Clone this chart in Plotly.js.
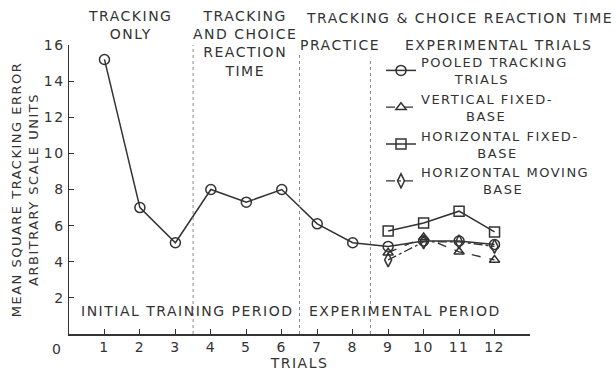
<!DOCTYPE html>
<html><head><meta charset="utf-8">
<script src="https://cdn.plot.ly/plotly-3.0.1.min.js"></script>
<style>body{margin:0;background:#fff}#c{width:616px;height:372px}
text{letter-spacing:1.5px}</style>
</head><body><div id="c"></div>
<script>
var trials = [1,2,3,4,5,6,7,8,9,10,11,12];
var pooled = [15.2,7.0,5.05,8.0,7.3,8.0,6.1,5.05,4.85,5.15,5.15,4.95];
var expTrials = [9,10,11,12];
var verticalFixed = [4.5,5.35,4.55,4.1];
var horizontalFixed = [5.7,6.15,6.8,5.65];
var horizontalMoving = [4.1,5.1,5.1,4.85];
var xTicks = [1,2,3,4,5,6,7,8,9,10,11,12];
var yTicks = [2,4,6,8,10,12,14,16];
var dividers = [3.5,6.5,8.5];
var dividerTops = [16.2,15.5,15.3];

var ink = '#333';
var F = 'DejaVu Sans, Arial, sans-serif';
var traces = [
 {x:trials,y:pooled,name:'POOLED TRACKING<br>      TRIALS',mode:'lines+markers',
  line:{color:ink,width:1.5},marker:{symbol:'circle-open',size:10,color:ink,line:{width:1.5}}},
 {x:expTrials,y:verticalFixed,name:'VERTICAL FIXED-<br>        BASE',mode:'lines+markers',
  line:{color:ink,width:1.3,dash:'dash'},marker:{symbol:'triangle-up-open',size:9,color:ink,line:{width:1.5}}},
 {x:expTrials,y:horizontalFixed,name:'HORIZONTAL FIXED-<br>          BASE',mode:'lines+markers',
  line:{color:ink,width:1.5},marker:{symbol:'square-open',size:10,color:ink,line:{width:1.5}}},
 {x:expTrials,y:horizontalMoving,name:'HORIZONTAL MOVING<br>           BASE',mode:'lines+markers',
  line:{color:ink,width:1.3,dash:'dashdot'},marker:{symbol:'diamond-tall-open',size:10,color:ink,line:{width:1.5}}}
];
var shapes = dividers.map(function(d,i){return {type:'line',xref:'x',yref:'y',x0:d,x1:d,y0:0,y1:dividerTops[i],
  line:{color:'#888',width:1,dash:'dot'}};});
function ann(t,x,y,opts){var a={text:t,xref:'paper',yref:'paper',x:x,y:y,showarrow:false,
  font:{family:F,size:14,color:ink},xanchor:'center',yanchor:'middle'};for(var k in opts)a[k]=opts[k];return a;}
var W=616,H=372,L=69,R=86,T=45,B=38;
function px(x){return (x-L)/(W-L-R);} function py(y){return (H-B-y)/(H-T-B);}
var annotations=[
 ann('TRACKING<br>ONLY',px(130),py(25)),
 ann('TRACKING<br>AND CHOICE<br>REACTION<br>TIME',px(245),py(44)),
 ann('TRACKING &amp; CHOICE REACTION TIME',px(459),py(18)),
 ann('PRACTICE',px(340),py(45)),
 ann('EXPERIMENTAL TRIALS',px(498),py(45)),
 ann('INITIAL TRAINING PERIOD',px(187),py(311)),
 ann('EXPERIMENTAL PERIOD',px(405),py(311)),
 ann('0',px(57),py(349),{font:{family:F,size:14,color:ink}})
];
var layout={width:W,height:H,margin:{l:L,r:R,t:T,b:B},paper_bgcolor:'#fff',plot_bgcolor:'#fff',
 font:{family:F,color:ink,size:13},showlegend:true,
 legend:{x:px(381),y:py(47),xanchor:'left',yanchor:'top',bgcolor:'rgba(0,0,0,0)',font:{family:F,size:13,color:ink},
   tracegroupgap:0,itemwidth:30},
 xaxis:{range:[0,13],tickvals:xTicks,ticks:'inside',ticklen:5,tickcolor:ink,showgrid:false,zeroline:false,
   showline:true,linecolor:ink,linewidth:1.5,tickfont:{family:F,size:14,color:ink},
   title:{text:'TRIALS',font:{family:F,size:14,color:ink},standoff:2}},
 yaxis:{range:[0,16],tickvals:yTicks,ticks:'inside',ticklen:5,tickcolor:ink,showgrid:false,zeroline:false,
   showline:true,linecolor:ink,linewidth:1.5,tickfont:{family:F,size:14,color:ink},
   title:{text:'MEAN SQUARE TRACKING ERROR<br>ARBITRARY SCALE UNITS',font:{family:F,size:13,color:ink},standoff:2}},
 shapes:shapes,annotations:annotations};
Plotly.newPlot('c',traces,layout,{displayModeBar:false,staticPlot:true});
</script></body></html>
